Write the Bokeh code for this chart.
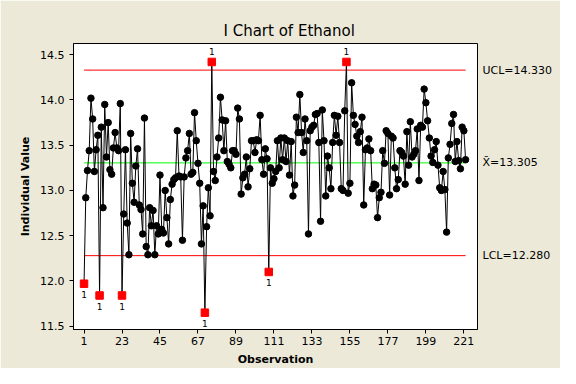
from bokeh.plotting import figure
from bokeh.models import FixedTicker, LinearAxis, Range1d
from bokeh.embed import file_html
from bokeh.resources import INLINE
from bokeh.core.properties import value

# ---- data ----
ethanol = [
    11.97, 12.92, 13.22, 13.44, 14.02, 13.79, 13.21, 13.45, 13.61, 11.84,
    13.70, 12.81, 13.95, 13.37, 13.75, 13.23, 13.18, 13.47, 13.64, 13.47,
    13.44, 13.96, 11.84, 12.74, 13.45, 12.64, 12.29, 13.63, 13.08, 12.87,
    13.27, 13.46, 12.84, 12.79, 12.52, 13.80, 12.38, 12.29, 12.81, 12.61,
    12.78, 12.29, 12.61, 12.52, 13.17, 12.57, 12.53, 13.00, 12.70, 12.41,
    12.90, 13.07, 13.12, 13.14, 13.66, 13.16, 13.15, 12.45, 13.15, 13.36,
    13.44, 13.63, 13.18, 13.20, 13.86, 13.55, 13.30, 13.08, 12.41, 12.83,
    11.65, 12.60, 13.03, 12.72, 14.42, 13.21, 13.11, 13.37, 13.58, 14.03,
    13.78, 13.44, 13.77, 13.32, 13.29, 13.25, 13.44, 13.44, 13.40, 13.91,
    13.79, 12.96, 13.14, 13.18, 13.37, 13.04, 13.24, 13.55, 13.55, 13.42,
    13.56, 13.55, 13.83, 13.34, 13.18, 13.46, 13.35, 12.10, 13.25, 13.08,
    13.13, 13.21, 13.55, 13.25, 13.58, 13.34, 13.58, 13.32, 13.55, 13.17,
    13.54, 12.94, 13.06, 13.81, 13.64, 14.06, 13.64, 13.42, 13.79, 13.55,
    12.52, 13.66, 13.70, 13.72, 13.84, 13.85, 13.53, 12.66, 13.89, 13.55,
    12.94, 13.38, 13.25, 13.02, 13.53, 13.83, 13.61, 13.82, 13.53, 13.02,
    13.00, 13.88, 14.42, 12.97, 13.08, 14.19, 13.83, 13.73, 13.60, 13.53,
    13.65, 13.81, 12.84, 13.45, 13.47, 13.57, 13.44, 13.02, 13.07, 13.06,
    12.70, 12.92, 12.98, 13.44, 13.30, 13.66, 13.63, 12.95, 13.60, 13.58,
    13.25, 13.02, 13.12, 13.44, 13.42, 13.38, 13.07, 13.65, 13.28, 13.76,
    13.37, 13.40, 13.44, 13.68, 13.11, 13.72, 13.70, 14.12, 13.97, 13.77,
    13.58, 13.38, 13.31, 13.45, 13.54, 13.28, 13.03, 13.00, 13.21, 13.01,
    12.54, 13.36, 13.51, 13.74, 13.84, 13.32, 13.54, 13.33, 13.24, 13.70,
    13.66, 13.34,
]
observation = list(range(1, len(ethanol) + 1))
ucl = 14.330
center_line = 13.305
lcl = 12.280
x_ticks = [1, 23, 45, 67, 89, 111, 133, 155, 177, 199, 221]
y_ticks = [11.5, 12.0, 12.5, 13.0, 13.5, 14.0, 14.5]
limit_labels = {lcl: "LCL=12.280", center_line: "X\u0304=13.305", ucl: "UCL=14.330"}
title_text = "I Chart of Ethanol"
x_title = "Observation"
y_title = "Individual Value"

# ---- split points ----
ok_x, ok_y, lo_x, lo_y, hi_x, hi_y = [], [], [], [], [], []
for xo, v in zip(observation, ethanol):
    if v < lcl:
        lo_x.append(xo); lo_y.append(v)
    elif v > ucl:
        hi_x.append(xo); hi_y.append(v)
    else:
        ok_x.append(xo); ok_y.append(v)

BG = "#ECE9D8"
FONT = "DejaVu Sans"

p = figure(width=560, height=368, output_backend="svg", toolbar_location=None,
           x_range=Range1d(-5.1, 228.9), y_range=Range1d(11.464, 14.624),
           min_border_left=73, min_border_right=83, min_border_top=43,
           min_border_bottom=38, background_fill_color="white",
           border_fill_color=BG, outline_line_color="black", outline_line_width=1)

p.title.text = title_text
p.title.text_font = FONT
p.title.text_font_size = "15px"
p.title.text_font_style = "normal"
p.title.text_color = "black"
p.title.align = "left"
p.title.offset = 150
p.title.standoff = 7

p.grid.visible = False

for ax in (p.xaxis[0], p.yaxis[0]):
    ax.axis_line_color = "black"
    ax.major_tick_line_color = "black"
    ax.major_tick_out = 4
    ax.major_tick_in = 0
    ax.minor_tick_line_color = None
    ax.major_label_text_font = FONT
    ax.major_label_text_font_size = "11px"
    ax.major_label_text_color = "black"
    ax.axis_label_text_font = FONT
    ax.axis_label_text_font_size = "11px"
    ax.axis_label_text_font_style = "bold"
    ax.axis_label_text_color = "black"

p.xaxis.ticker = FixedTicker(ticks=x_ticks)
p.xaxis.axis_label = x_title
p.xaxis.major_label_standoff = 3
p.xaxis.axis_label_standoff = 5
p.yaxis.ticker = FixedTicker(ticks=y_ticks)
p.yaxis.axis_label = y_title
p.yaxis.major_label_standoff = 5
p.yaxis.axis_label_standoff = 5
p.yaxis.major_label_overrides = {t: f"{t:.1f}" for t in y_ticks}

right = LinearAxis(ticker=FixedTicker(ticks=list(limit_labels.keys())),
                   major_label_overrides=limit_labels,
                   axis_line_color=None, major_tick_line_color=None,
                   minor_tick_line_color=None, major_tick_out=0, major_tick_in=0,
                   major_label_standoff=5, major_label_text_font=FONT,
                   major_label_text_font_size="11px", major_label_text_color="black")
p.add_layout(right, "right")

# control lines
p.segment(x0=[observation[0]] * 2, x1=[observation[-1]] * 2, y0=[ucl, lcl], y1=[ucl, lcl],
          line_color="#FF0000", line_width=1)
p.segment(x0=[observation[0]], x1=[observation[-1]], y0=[center_line], y1=[center_line],
          line_color="#00FF00", line_width=1)

# data
p.line(observation, ethanol, line_color="black", line_width=1)
p.scatter(ok_x, ok_y, marker="circle", size=6.5, fill_color="black", line_color="black")
p.scatter(lo_x + hi_x, lo_y + hi_y, marker="square", size=7.5,
          fill_color="#FF0000", line_color="#FF0000")

p.text(lo_x, lo_y, text=["1"] * len(lo_x), text_font=value(FONT), text_font_size="9px",
       text_align="center", text_baseline="middle", y_offset=11, text_color="black")
p.text(hi_x, hi_y, text=["1"] * len(hi_x), text_font=value(FONT), text_font_size="9px",
       text_align="center", text_baseline="middle", y_offset=-10, text_color="black")

open("out.html", "w").write(file_html(p, INLINE))
